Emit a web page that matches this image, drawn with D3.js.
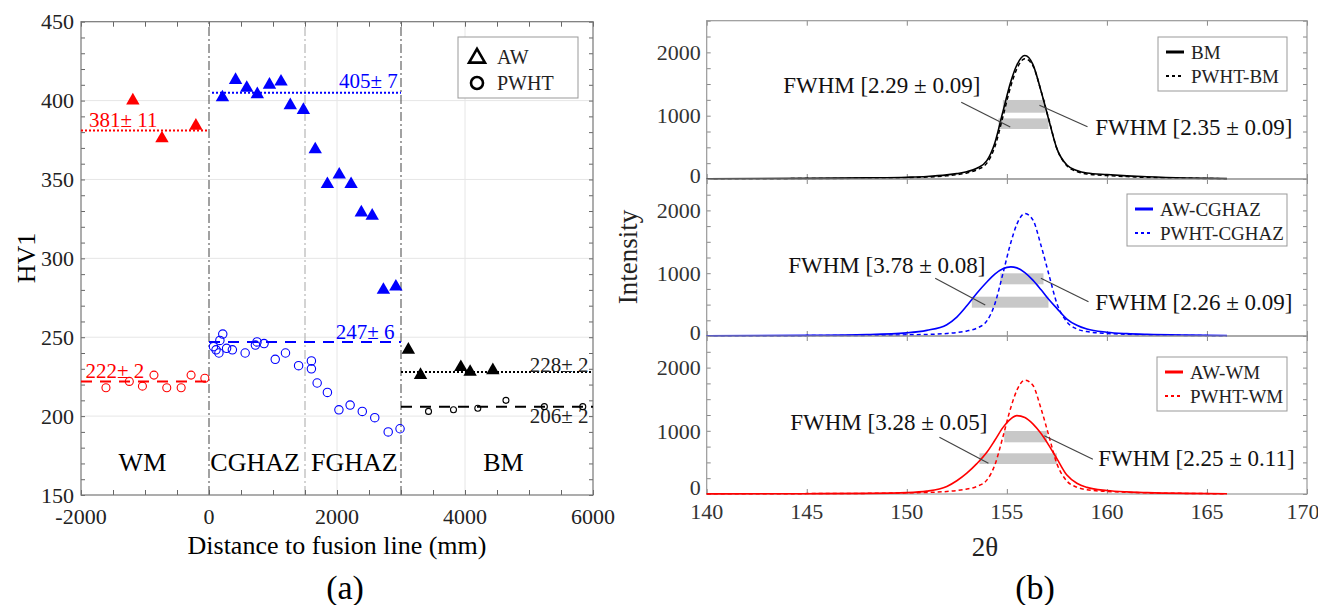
<!DOCTYPE html>
<html>
<head>
<meta charset="utf-8">
<script src="https://cdn.jsdelivr.net/npm/d3@7"></script>
<style>
  body { margin: 0; background: #fff; }
</style>
</head>
<body>
<script>
// ---- (a) hardness data ----
const wmAwX = [-1190, -735, -205];
const wmAwY = [400, 376, 384];
const hazAwX = [210, 415, 590, 755, 945, 1125, 1270, 1475, 1660, 1850, 2035, 2220, 2380, 2550, 2725, 2920];
const hazAwY = [402, 413, 408, 404, 410, 412, 397, 394, 369, 347, 353, 347, 329, 327, 280, 282];
const bmAwX = [3115, 3305, 3935, 4080, 4435];
const bmAwY = [242, 226, 231, 228, 229];
const wmPwhtX = [-1610, -1245, -1040, -860, -660, -435, -280, -65];
const wmPwhtY = [218, 222, 219, 226, 218, 218, 226, 224];
const hazPwhtX = [70, 110, 155, 170, 215, 275, 365, 565, 725, 750, 860, 1035, 1195, 1400, 1600, 1600, 1690, 1850, 2030, 2205, 2395, 2590, 2800, 2985];
const hazPwhtY = [244, 242, 240, 248, 252, 243, 242, 240, 245, 247, 246, 236, 240, 232, 235, 230, 221, 215, 204, 207, 203, 199, 190, 192];
const bmPwhtX = [3430, 3820, 4200, 4640, 5240, 5840];
const bmPwhtY = [203, 204, 205, 210, 206, 206];

const zoneStart = [-2000, 0, 3000];
const zoneEnd = [0, 3000, 6000];
const meanAw = [381, 405, 228];
const meanPwht = [222, 247, 206];
const meanAwLabel = ["381± 11", "405± 7", "228± 2"];
const meanPwhtLabel = ["222± 2", "247± 6", "206± 2"];
const zoneColors = ["#ff0000", "#0000ff", "#000000"];
const zoneNames = ["WM", "CGHAZ", "FGHAZ", "BM"];
const zoneNameX = [-1040, 720, 2270, 4600];
const xTicksA = [-2000, 0, 2000, 4000, 6000];
const yTicksA = [150, 200, 250, 300, 350, 400, 450];

// ---- (b) XRD peaks ----
const twoTheta = [140, 145, 148, 150, 151, 152, 152.5, 153, 153.5, 154, 154.4, 154.8, 155.2, 155.5, 155.9, 156.3, 156.7, 157.1, 157.5, 158, 158.5, 159, 160, 161, 162, 164, 166];
const bmAw     = [5, 10, 18, 28, 40, 65, 85, 115, 170, 290, 570, 1060, 1540, 1800, 1950, 1810, 1400, 930, 480, 220, 135, 95, 70, 50, 35, 15, 6];
const bmPwht   = [3, 7, 12, 20, 30, 50, 68, 95, 145, 250, 510, 980, 1470, 1740, 1900, 1790, 1400, 940, 480, 210, 118, 80, 55, 38, 25, 12, 5];
const cghazAw  = [4, 10, 22, 50, 90, 180, 300, 480, 680, 860, 985, 1070, 1100, 1085, 1010, 890, 740, 580, 440, 270, 170, 110, 60, 38, 26, 14, 8];
const cghazPwht= [3, 6, 10, 18, 25, 40, 55, 80, 125, 240, 510, 990, 1490, 1780, 1950, 1850, 1450, 980, 520, 225, 112, 70, 40, 28, 18, 9, 4];
const wmAw     = [2, 5, 10, 22, 45, 120, 210, 330, 480, 660, 850, 1050, 1190, 1240, 1210, 1110, 960, 770, 560, 300, 170, 105, 55, 33, 22, 10, 5];
const wmPwht   = [3, 6, 10, 18, 25, 40, 55, 78, 120, 220, 460, 900, 1370, 1640, 1800, 1720, 1360, 920, 480, 205, 108, 68, 40, 28, 18, 9, 4];

const legendNames = [["BM", "PWHT-BM"], ["AW-CGHAZ", "PWHT-CGHAZ"], ["AW-WM", "PWHT-WM"]];
const fwhmLeft = ["FWHM [2.29 ± 0.09]", "FWHM [3.78 ± 0.08]", "FWHM [3.28 ± 0.05]"];
const fwhmRight = ["FWHM [2.35 ± 0.09]", "FWHM [2.26 ± 0.09]", "FWHM [2.25 ± 0.11]"];
// gray bands [x0, x1, yLow, yHigh] per panel, upper band then lower band
const bandsTop = [[154.80, 156.92, 1047, 1248], [154.58, 157.08, 790, 957]];
const bandsMid = [[154.67, 156.83, 823, 998], [153.25, 157.08, 451, 626]];
const bandsBot = [[154.87, 157.00, 818, 997], [153.63, 157.50, 475, 644]];
// leader lines [x1, y1, x2, y2] and text anchors [x, y]
const leftLeader = [[152.72, 1212, 155.17, 821], [151.42, 919, 153.92, 494], [151.63, 897, 154.08, 486]];
const rightLeader = [[156.63, 1164, 159.03, 826], [156.70, 919, 159.08, 546], [156.87, 922, 159.30, 549]];
const leftTextPos = [[148.75, 1485], [149.0, 1131], [149.1, 1144]];
const rightTextPos = [[159.42, 826], [159.42, 546], [159.57, 565]];
const xTicksB = [140, 145, 150, 155, 160, 165, 170];
const yTicksB = [0, 1000, 2000];

const W = 1318, H = 605;
const svg = d3.select("body").append("svg").attr("width", W).attr("height", H);

// ================= (a) =================
const xA = d3.scaleLinear().domain([-2000, 6000]).range([81, 593]);
const yA = d3.scaleLinear().domain([150, 450]).range([495, 21.7]);
const gA = svg.append("g");

// grid
gA.selectAll(".gy").data([200, 250, 300, 350, 400]).join("line")
  .attr("x1", xA(-2000)).attr("x2", xA(6000)).attr("y1", d => yA(d)).attr("y2", d => yA(d))
  .attr("stroke", "#e6e6e6").attr("stroke-width", 1);
gA.selectAll(".gx").data([2000, 4000]).join("line")
  .attr("x1", d => xA(d)).attr("x2", d => xA(d)).attr("y1", yA(150)).attr("y2", yA(450))
  .attr("stroke", "#e6e6e6").attr("stroke-width", 1);

// zone boundaries
gA.selectAll(".zb").data([0, 1500, 3000]).join("line")
  .attr("x1", d => xA(d)).attr("x2", d => xA(d)).attr("y1", yA(150)).attr("y2", yA(450))
  .attr("stroke", d => d === 1500 ? "#b0b0b0" : "#555")
  .attr("stroke-width", 1.1)
  .attr("stroke-dasharray", "9,3,2,3");

// ticks
const tickA = (axis, tr) => gA.append("g").attr("transform", tr).call(axis)
  .call(g => g.select(".domain").remove())
  .call(g => g.selectAll(".tick line").attr("stroke", "#666"));
tickA(d3.axisBottom(xA).tickValues(d3.range(-2000, 6001, 500)).tickSize(-5).tickFormat(""), `translate(0,${yA(150)})`);
tickA(d3.axisTop(xA).tickValues(d3.range(-2000, 6001, 500)).tickSize(-5).tickFormat(""), `translate(0,${yA(450)})`);
tickA(d3.axisLeft(yA).tickValues(d3.range(150, 451, 10)).tickSize(-4).tickFormat(""), `translate(${xA(-2000)},0)`);
tickA(d3.axisRight(yA).tickValues(d3.range(150, 451, 10)).tickSize(-4).tickFormat(""), `translate(${xA(6000)},0)`);

gA.append("rect").attr("x", xA(-2000)).attr("y", yA(450))
  .attr("width", xA(6000) - xA(-2000)).attr("height", yA(150) - yA(450))
  .attr("fill", "none").attr("stroke", "#777").attr("stroke-width", 1.2);

gA.selectAll(".xl").data(xTicksA).join("text")
  .attr("x", d => xA(d)).attr("y", yA(150) + 21).attr("dy", "0.35em")
  .attr("text-anchor", "middle").attr("font-size", 22).attr("fill", "#222").text(d => d);
gA.selectAll(".yl").data(yTicksA).join("text")
  .attr("x", xA(-2000) - 7).attr("y", d => yA(d)).attr("dy", "0.35em")
  .attr("text-anchor", "end").attr("font-size", 22).attr("fill", "#222").text(d => d);

gA.append("text").attr("x", 337).attr("y", 545).attr("dy", "0.35em")
  .attr("text-anchor", "middle").attr("font-size", 26).text("Distance to fusion line (mm)");
gA.append("text").attr("transform", "translate(26,258) rotate(-90)").attr("dy", "0.35em")
  .attr("text-anchor", "middle").attr("font-size", 26).text("HV1");
gA.append("text").attr("x", 345).attr("y", 587).attr("dy", "0.35em")
  .attr("text-anchor", "middle").attr("font-size", 34).text("(a)");

// zone names
gA.selectAll(".zn").data(zoneNames).join("text")
  .attr("x", (d, i) => xA(zoneNameX[i])).attr("y", 462).attr("dy", "0.35em")
  .attr("text-anchor", "middle").attr("font-size", 26).text(d => d);

// mean lines
gA.selectAll(".ma").data(meanAw).join("line")
  .attr("x1", (d, i) => xA(zoneStart[i]) + (i === 1 ? 3 : 0)).attr("x2", (d, i) => xA(zoneEnd[i]))
  .attr("y1", d => yA(d)).attr("y2", d => yA(d))
  .attr("stroke", (d, i) => zoneColors[i]).attr("stroke-width", 2).attr("stroke-dasharray", "2,2");
gA.selectAll(".mp").data(meanPwht).join("line")
  .attr("x1", (d, i) => xA(zoneStart[i])).attr("x2", (d, i) => xA(zoneEnd[i]))
  .attr("y1", d => yA(d)).attr("y2", d => yA(d))
  .attr("stroke", (d, i) => zoneColors[i]).attr("stroke-width", 2).attr("stroke-dasharray", "11,8");

// mean labels
const awLabelX = [-1875, 2950, 5930];
const awLabelAnchor = ["start", "end", "end"];
const awLabelDy = [-11, -12, -7];
gA.selectAll(".mal").data(meanAwLabel).join("text")
  .attr("x", (d, i) => xA(awLabelX[i])).attr("y", (d, i) => yA(meanAw[i]) + awLabelDy[i]).attr("dy", "0.35em")
  .attr("text-anchor", (d, i) => awLabelAnchor[i]).attr("font-size", 21)
  .attr("fill", (d, i) => zoneColors[i] === "#000000" ? "#222" : zoneColors[i]).text(d => d);
const pwLabelX = [-1930, 2900, 5930];
const pwLabelAnchor = ["start", "end", "end"];
const pwLabelDy = [-11, -10, 9];
gA.selectAll(".mpl").data(meanPwhtLabel).join("text")
  .attr("x", (d, i) => xA(pwLabelX[i])).attr("y", (d, i) => yA(meanPwht[i]) + pwLabelDy[i]).attr("dy", "0.35em")
  .attr("text-anchor", (d, i) => pwLabelAnchor[i]).attr("font-size", 21)
  .attr("fill", (d, i) => zoneColors[i] === "#000000" ? "#222" : zoneColors[i]).text(d => d);

// markers
const tri = d3.symbol(d3.symbolTriangle).size(78);
const awSets = [[wmAwX, wmAwY, "#ff0000"], [hazAwX, hazAwY, "#0000ff"], [bmAwX, bmAwY, "#000000"]];
awSets.forEach(([xs, ys, c]) => {
  gA.append("g").selectAll("path").data(xs.map((x, i) => [x, ys[i]])).join("path")
    .attr("d", tri).attr("transform", d => `translate(${xA(d[0])},${yA(d[1])})`).attr("fill", c);
});
const pwSets = [[wmPwhtX, wmPwhtY, "#ff0000", 4], [hazPwhtX, hazPwhtY, "#0000ff", 4.2], [bmPwhtX, bmPwhtY, "#000000", 3]];
pwSets.forEach(([xs, ys, c, r]) => {
  gA.append("g").selectAll("circle").data(xs.map((x, i) => [x, ys[i]])).join("circle")
    .attr("cx", d => xA(d[0])).attr("cy", d => yA(d[1])).attr("r", r)
    .attr("fill", "none").attr("stroke", c).attr("stroke-width", 1.1);
});

// legend (a)
const lgA = gA.append("g");
lgA.append("rect").attr("x", 458).attr("y", 37).attr("width", 120).attr("height", 61)
  .attr("fill", "#fff").attr("stroke", "#999").attr("stroke-width", 1);
lgA.append("path").attr("d", d3.symbol(d3.symbolTriangle).size(110)).attr("transform", "translate(477,58)")
  .attr("fill", "none").attr("stroke", "#000").attr("stroke-width", 2.6);
lgA.append("circle").attr("cx", 477).attr("cy", 83).attr("r", 6)
  .attr("fill", "none").attr("stroke", "#000").attr("stroke-width", 2.6);
lgA.append("text").attr("x", 497).attr("y", 57).attr("dy", "0.35em").attr("font-size", 20).attr("fill", "#222").text("AW");
lgA.append("text").attr("x", 497).attr("y", 83).attr("dy", "0.35em").attr("font-size", 20).attr("fill", "#222").text("PWHT");

// ================= (b) =================
const xB = d3.scaleLinear().domain([140, 170]).range([706.7, 1307]);
const panelTop = [20.7, 179, 336];
const panelBot = [179, 336, 494];
const seriesB = [[bmAw, bmPwht], [cghazAw, cghazPwht], [wmAw, wmPwht]];
const colorsB = ["#000000", "#0000ff", "#ff0000"];
const bandsB = [bandsTop, bandsMid, bandsBot];
const legendBox = [[1158, 37, 129, 54], [1127, 194, 160, 52], [1157, 357, 130, 54]];
const gB = svg.append("g");

panelTop.forEach((top, p) => {
  const y = d3.scaleLinear().domain([0, 2500]).range([panelBot[p], top]);
  const g = gB.append("g");

  // ticks
  const tk = (axis, tr) => g.append("g").attr("transform", tr).call(axis)
    .call(s => s.select(".domain").remove())
    .call(s => s.selectAll(".tick line").attr("stroke", "#888"));
  tk(d3.axisBottom(xB).tickValues(d3.range(140, 171, 5)).tickSize(-5).tickFormat(""), `translate(0,${panelBot[p]})`);
  tk(d3.axisTop(xB).tickValues(d3.range(140, 171, 5)).tickSize(-5).tickFormat(""), `translate(0,${top})`);
  tk(d3.axisLeft(y).tickValues(d3.range(0, 2501, 250)).tickSize(-4).tickFormat(""), `translate(${xB(140)},0)`);
  tk(d3.axisRight(y).tickValues(d3.range(0, 2501, 250)).tickSize(-4).tickFormat(""), `translate(${xB(170)},0)`);

  g.append("rect").attr("x", xB(140)).attr("y", top).attr("width", xB(170) - xB(140)).attr("height", panelBot[p] - top)
    .attr("fill", "none").attr("stroke", "#999").attr("stroke-width", 1.2);

  g.selectAll(".yl").data(yTicksB).join("text")
    .attr("x", xB(140) - 6).attr("y", d => y(d) - (d === 0 ? (p === 2 ? 7 : 4) : 0)).attr("dy", "0.35em")
    .attr("text-anchor", "end").attr("font-size", 22).attr("fill", "#333").text(d => d);

  // bands
  g.selectAll(".band").data(bandsB[p]).join("rect")
    .attr("x", d => xB(d[0])).attr("width", d => xB(d[1]) - xB(d[0]))
    .attr("y", d => y(d[3])).attr("height", d => y(d[2]) - y(d[3]))
    .attr("fill", "#c8c8c8");

  // curves
  const line = d3.line().x((d, i) => xB(twoTheta[i])).y(d => y(d)).curve(d3.curveMonotoneX);
  g.append("path").datum(seriesB[p][1]).attr("d", line).attr("fill", "none")
    .attr("stroke", colorsB[p]).attr("stroke-width", 1.5).attr("stroke-dasharray", "4,3");
  g.append("path").datum(seriesB[p][0]).attr("d", line).attr("fill", "none")
    .attr("stroke", colorsB[p]).attr("stroke-width", 1.6);

  // leaders + labels
  [leftLeader[p], rightLeader[p]].forEach(l => {
    g.append("line").attr("x1", xB(l[0])).attr("y1", y(l[1])).attr("x2", xB(l[2])).attr("y2", y(l[3]))
      .attr("stroke", "#444").attr("stroke-width", 1.2);
  });
  g.append("text").attr("x", xB(leftTextPos[p][0])).attr("y", y(leftTextPos[p][1])).attr("dy", "0.35em")
    .attr("text-anchor", "middle").attr("font-size", 23).attr("fill", "#111").text(fwhmLeft[p]);
  g.append("text").attr("x", xB(rightTextPos[p][0])).attr("y", y(rightTextPos[p][1])).attr("dy", "0.35em")
    .attr("text-anchor", "start").attr("font-size", 23).attr("fill", "#111").text(fwhmRight[p]);

  // legend
  const [lx, ly, lw, lh] = legendBox[p];
  g.append("rect").attr("x", lx).attr("y", ly).attr("width", lw).attr("height", lh)
    .attr("fill", "#fff").attr("stroke", "#999").attr("stroke-width", 1);
  legendNames[p].forEach((name, k) => {
    const yy = ly + 15 + k * 24;
    g.append("line").attr("x1", lx + 8).attr("x2", lx + 26).attr("y1", yy).attr("y2", yy)
      .attr("stroke", colorsB[p]).attr("stroke-width", k === 0 ? 3 : 2.2)
      .attr("stroke-dasharray", k === 0 ? null : "3,3");
    g.append("text").attr("x", lx + 33).attr("y", yy).attr("dy", "0.35em")
      .attr("font-size", 19).attr("fill", "#222").text(name);
  });
});

gB.selectAll(".xl").data(xTicksB).join("text")
  .attr("x", d => d === 170 ? xB(d) - 4 : xB(d)).attr("y", 511).attr("dy", "0.35em")
  .attr("text-anchor", "middle").attr("font-size", 22).attr("fill", "#333").text(d => d);
gB.append("text").attr("transform", "translate(628,257) rotate(-90)").attr("dy", "0.35em")
  .attr("text-anchor", "middle").attr("font-size", 27).attr("fill", "#222").text("Intensity");
gB.append("text").attr("x", 985).attr("y", 547).attr("dy", "0.35em")
  .attr("text-anchor", "middle").attr("font-size", 27).attr("fill", "#222").text("2θ");
gB.append("text").attr("x", 1035).attr("y", 587).attr("dy", "0.35em")
  .attr("text-anchor", "middle").attr("font-size", 34).text("(b)");

// serif font on every label
svg.selectAll("text").style("font-family", "'Liberation Serif'");
</script>
</body>
</html>
